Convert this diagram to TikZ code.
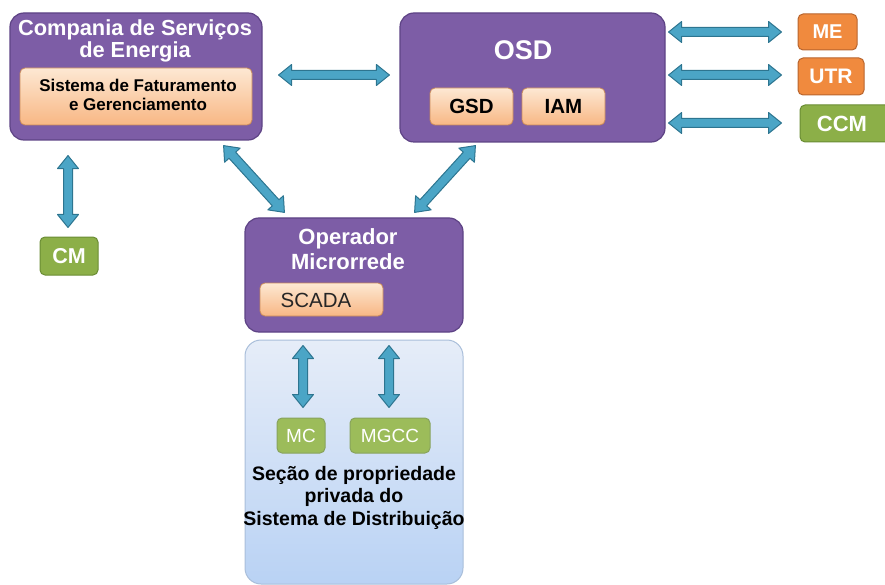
\documentclass[tikz,border=0pt]{standalone}
\usepackage{fontspec}
\setmainfont{Liberation Sans}
\usetikzlibrary{calc}

\definecolor{purp}{HTML}{7D5DA6}
\definecolor{purpline}{HTML}{5E4385}
\definecolor{peachtop}{HTML}{FDE8D3}
\definecolor{peachbot}{HTML}{F8B784}
\definecolor{peachline}{HTML}{C98A5A}
\definecolor{orng}{HTML}{F08A3E}
\definecolor{orngline}{HTML}{B8652E}
\definecolor{grn}{HTML}{8CAF48}
\definecolor{grnline}{HTML}{6A8C34}
\definecolor{grnlight}{HTML}{9CBC5A}
\definecolor{arrowfill}{HTML}{4BA5C6}
\definecolor{arrowline}{HTML}{2D7590}
\definecolor{skytop}{HTML}{E6EDF8}
\definecolor{skybot}{HTML}{B9D2F4}
\definecolor{skyline}{HTML}{A9BEDA}

\tikzset{
  group/.style={draw=purpline, line width=1.2pt, fill=purp, rounded corners=14pt, inner sep=0pt},
  grouptitle/.style={text=white, align=center, inner sep=0pt},
  peach/.style={draw=peachline, line width=0.8pt, top color=peachtop, bottom color=peachbot,
                rounded corners=5pt, inner sep=0pt, align=center},
  tag/.style={rounded corners=5pt, line width=1pt, text=white, inner sep=0pt,
              font=\bfseries\fontsize{20}{20}\selectfont},
  orangetag/.style={tag, fill=orng, draw=orngline},
  greentag/.style={tag, fill=grn, draw=grnline},
  softtag/.style={tag, fill=grnlight, draw=grnline!80, font=\fontsize{19}{19}\selectfont},
  flow/.style={fill=arrowfill, draw=arrowline, line width=1pt, line join=round}
}

% two-headed block arrow between two points
\newcommand\linkarrow[2]{%
  \draw[flow] let \p1=($(#2)-(#1)$), \n1={atan2(\y1,\x1)} in
    (#1) -- ($(#1)+(\n1:13pt)+(\n1+90:10.5pt)$) -- ($(#1)+(\n1:13pt)+(\n1+90:4.5pt)$)
    -- ($(#2)+(\n1+180:13pt)+(\n1+90:4.5pt)$) -- ($(#2)+(\n1+180:13pt)+(\n1+90:10.5pt)$)
    -- (#2) -- ($(#2)+(\n1+180:13pt)+(\n1-90:10.5pt)$) -- ($(#2)+(\n1+180:13pt)+(\n1-90:4.5pt)$)
    -- ($(#1)+(\n1:13pt)+(\n1-90:4.5pt)$) -- ($(#1)+(\n1:13pt)+(\n1-90:10.5pt)$) -- cycle;}

\begin{document}
\begin{tikzpicture}[x=1pt, y=-1pt]
\useasboundingbox (0,0) rectangle (885,585);

% utility company
\node[group, minimum width=252pt, minimum height=127pt] (comp) at (136,76.5) {};
\node[grouptitle, font=\bfseries\fontsize{21.8}{22}\selectfont] (compT) at (135,41)
  {Compania de Serviços\\de Energia};
\node[peach, minimum width=232pt, minimum height=57pt] (billing) at (136,96.5) {};
\node[align=center, inner sep=0pt, font=\bfseries\fontsize{17}{19}\selectfont] (billingT)
  at (138,95) {Sistema de Faturamento\\e Gerenciamento};

% distribution system operator
\node[group, minimum width=265pt, minimum height=129pt] (osd) at (532.5,77.5) {};
\node[grouptitle, font=\bfseries\fontsize{27}{27}\selectfont] (osdT) at (523,50) {OSD};
\node[peach, minimum width=83pt, minimum height=37pt, font=\bfseries\fontsize{20.5}{20}\selectfont]
  (gsd) at (471.5,106.5) {GSD};
\node[peach, minimum width=83pt, minimum height=37pt, font=\bfseries\fontsize{20.5}{20}\selectfont]
  (iam) at (563.5,106.5) {IAM};

% field devices
\node[orangetag, minimum width=59pt, minimum height=36pt] (me) at (827.5,32) {ME};
\node[orangetag, minimum width=66pt, minimum height=37pt, font=\bfseries\fontsize{21}{21}\selectfont]
  (utr) at (831,76.5) {UTR};
\node[greentag, minimum width=90pt, minimum height=37pt, font=\bfseries\fontsize{22}{22}\selectfont]
  (ccm) at (845,123.5) {\hspace*{-6pt}CCM};
\node[greentag, minimum width=58pt, minimum height=38pt, font=\bfseries\fontsize{21.5}{21}\selectfont]
  (cm) at (69,256) {CM};

% microgrid operator
\node[group, minimum width=218pt, minimum height=114pt] (op) at (354,275) {};
\node[grouptitle, font=\bfseries\fontsize{22}{25}\selectfont] (opT) at (348,249.5)
  {Operador\\Microrrede};
\node[peach, minimum width=123pt, minimum height=33pt] (scada) at (321.5,299.5) {};
\node[inner sep=0pt, font=\fontsize{20.5}{20}\selectfont, text=black!85] (scadaT) at (316,300) {SCADA};

% private section of the distribution system
\node[draw=skyline, line width=1pt, top color=skytop, bottom color=skybot, rounded corners=16pt,
      minimum width=218pt, minimum height=244pt, inner sep=0pt] (priv) at (354,462) {};
\node[softtag, minimum width=48pt, minimum height=35pt] (mc) at (301,435.5) {MC};
\node[softtag, minimum width=80pt, minimum height=35pt] (mgcc) at (390,435.5) {MGCC};
\node[align=center, inner sep=0pt, font=\bfseries\fontsize{19.5}{22.5}\selectfont] (privT)
  at (354,497.5) {Seção de propriedade\\privada do\\Sistema de Distribuição};

% connector end points
\coordinate (compR) at ($(comp.east)+(16,-1.5)$);
\coordinate (osdL)  at ($(osd.west)+(-10,-2.5)$);
\coordinate (meL)   at ($(me.west)+(-16,0)$);
\coordinate (osdR1) at ($(osd.east |- me)+(3,0)$);
\coordinate (utrL)  at ($(utr.west)+(-16,-1.5)$);
\coordinate (osdR2) at ($(osd.east |- utr)+(3,-1.5)$);
\coordinate (ccmL)  at ($(ccm.west)+(-18,-0.5)$);
\coordinate (osdR3) at ($(osd.east |- ccm)+(3,-0.5)$);
\coordinate (compB) at ($(cm.north |- comp.south)+(-1,15)$);
\coordinate (cmT)   at ($(cm.north)+(-1,-9)$);
\coordinate (compD) at ($(comp.south east)+(-39,5)$);
\coordinate (opL)   at ($(op.north west)+(40,-5)$);
\coordinate (osdD)  at ($(osd.south west)+(76,3)$);
\coordinate (opR)   at ($(op.north east)+(-49,-5)$);
\coordinate (privA) at ($(mc.north |- priv.north)+(2,6)$);
\coordinate (mcT)   at ($(mc.north)+(2,-10)$);
\coordinate (privB) at ($(mgcc.north |- priv.north)+(-1,6)$);
\coordinate (mgccT) at ($(mgcc.north)+(-1,-10)$);

% connectors
\linkarrow{compR}{osdL}
\linkarrow{osdR1}{meL}
\linkarrow{osdR2}{utrL}
\linkarrow{osdR3}{ccmL}
\linkarrow{compB}{cmT}
\linkarrow{compD}{opL}
\linkarrow{osdD}{opR}
\linkarrow{privA}{mcT}
\linkarrow{privB}{mgccT}
\end{tikzpicture}
\end{document}
